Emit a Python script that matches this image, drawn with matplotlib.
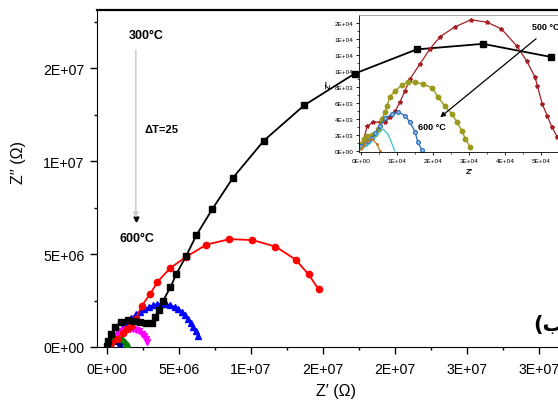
import matplotlib
matplotlib.use('Agg')
import matplotlib.pyplot as plt
import numpy as np

plt.rcParams['font.family'] = ['Liberation Sans', 'DejaVu Sans']

# ---------------- main plot data (ohm) ----------------
black_x = [0.0, 0.1, 0.3, 0.55, 1.0, 1.45, 1.9, 2.3, 2.7, 3.1, 3.3, 3.6, 3.9, 4.4, 4.8,
           5.5, 6.2, 7.3, 8.75, 10.9, 13.7, 17.2, 21.5, 26.1, 30.8]
black_y = [0.05, 0.3, 0.7, 1.1, 1.35, 1.45, 1.4, 1.35, 1.3, 1.3, 1.6, 2.0, 2.5, 3.2, 3.9,
           4.9, 6.0, 7.4, 9.1, 11.1, 13.0, 14.7, 16.0, 16.3, 15.6]

red_x = [0.05, 0.3, 0.7, 1.1, 1.4, 1.7, 2.0, 2.4, 3.0, 3.5, 4.4, 5.5, 6.9, 8.5, 10.1,
         11.7, 13.1, 14.0, 14.7]
red_y = [0.05, 0.2, 0.45, 0.75, 0.95, 1.15, 1.5, 2.2, 2.85, 3.5, 4.25, 4.85, 5.5, 5.8,
         5.75, 5.4, 4.7, 3.9, 3.1]

blue_x = [0.05, 0.2, 0.4, 0.6, 0.85, 1.1, 1.4, 1.7, 2.0, 2.3, 2.6, 2.9, 3.2, 3.5, 3.8,
          4.1, 4.4, 4.7, 4.95, 5.2, 5.45, 5.65, 5.85, 6.0, 6.15, 6.3]
blue_y = [0.05, 0.25, 0.45, 0.65, 0.85, 1.05, 1.3, 1.55, 1.75, 1.9, 2.05, 2.15, 2.25,
          2.3, 2.32, 2.3, 2.25, 2.15, 2.05, 1.9, 1.7, 1.5, 1.3, 1.05, 0.85, 0.6]

mag_x = [0.05, 0.2, 0.4, 0.6, 0.8, 1.0, 1.2, 1.4, 1.6, 1.8, 2.0, 2.2, 2.4, 2.55, 2.7, 2.8]
mag_y = [0.05, 0.25, 0.45, 0.6, 0.75, 0.85, 0.92, 0.97, 0.99, 0.98, 0.93, 0.85, 0.72,
         0.58, 0.42, 0.25]

green_x = [0.02, 0.1, 0.2, 0.35, 0.5, 0.65, 0.8, 0.95, 1.1, 1.2, 1.3, 1.38]
green_y = [0.02, 0.12, 0.22, 0.32, 0.4, 0.44, 0.45, 0.42, 0.34, 0.25, 0.14, 0.05]

navy_x = [0.02, 0.1, 0.2, 0.3, 0.4, 0.5, 0.6, 0.7, 0.8, 0.88]
navy_y = [0.02, 0.1, 0.18, 0.24, 0.28, 0.29, 0.26, 0.2, 0.12, 0.03]

# ---------------- inset data ----------------
dred_x = [0.03, 0.17, 0.33, 0.53, 0.67, 0.8, 0.95, 1.08, 1.22, 1.36, 1.64, 1.92, 2.2,
          2.6, 3.05, 3.5, 3.9, 4.33, 4.6, 4.83, 4.9, 5.03, 5.17, 5.3, 5.45, 5.6]
dred_y = [0.6, 3.1, 3.6, 3.6, 3.6, 4.2, 5.0, 6.1, 7.5, 9.0, 10.9, 12.8, 14.3, 15.5, 16.4,
          16.1, 15.25, 13.1, 11.25, 9.25, 8.1, 5.9, 4.4, 3.0, 1.75, 0.5]

olive_x = [0.0, 0.08, 0.17, 0.3, 0.4, 0.47, 0.58, 0.67, 0.72, 0.8, 0.94, 1.14, 1.3, 1.5,
           1.72, 1.97, 2.14, 2.33, 2.53, 2.67, 2.8, 2.9, 3.03]
olive_y = [0.9, 1.5, 1.9, 2.0, 2.1, 2.75, 4.0, 4.9, 5.6, 6.75, 7.5, 8.25, 8.6, 8.6, 8.4,
           7.9, 6.75, 5.6, 4.6, 3.6, 2.5, 1.5, 0.5]

iblue_x = [0.0, 0.1, 0.2, 0.3, 0.4, 0.53, 0.67, 0.86, 1.03, 1.22, 1.36, 1.5, 1.58, 1.69]
iblue_y = [0.6, 0.9, 1.2, 1.6, 2.2, 3.1, 4.1, 4.6, 4.9, 4.4, 3.6, 2.4, 1.1, 0.1]

cyan_x = [0.0, 0.1, 0.25, 0.35, 0.47, 0.61, 0.75, 0.86, 0.94]
cyan_y = [0.2, 0.5, 0.9, 1.5, 2.1, 2.75, 2.1, 0.9, 0.0]

orange_x = [0.0, 0.08, 0.17, 0.3, 0.44, 0.53]
orange_y = [0.2, 0.8, 1.25, 1.5, 0.9, 0.0]

main_xticks = [0, 5e6, 1e7, 1.5e7, 2e7, 2.5e7, 3e7]
main_xlabels = ['0E+00', '5E+06', '1E+07', '2E+07', '2E+07', '3E+07', '3E+07']
main_yticks = [0, 5e6, 1e7, 1.5e7]
main_ylabels = ['0E+00', '5E+06', '1E+07', '2E+07']

ins_xticks = [0, 1e4, 2e4, 3e4, 4e4, 5e4, 6e4]
ins_xlabels = ['0E+00', '1E+04', '2E+04', '3E+04', '4E+04', '5E+04', '6E+04']
ins_yticks = [0, 2e3, 4e3, 6e3, 8e3, 1e4, 1.2e4, 1.4e4, 1.6e4]
ins_ylabels = ['0E+00', '2E+03', '4E+03', '6E+03', '8E+03', '1E+04', '1E+04', '1E+04', '2E+04']

M = 1e6
fig = plt.figure(figsize=(5.58, 4.02), dpi=100)
ax = fig.add_axes([97/558, 54/402, 478/558, 337/402])

ax.plot(np.array(black_x)*M, np.array(black_y)*M, 's-', color='black', lw=1.3, ms=4, zorder=5)
ax.plot(np.array(red_x)*M, np.array(red_y)*M, 'o-', color='#ff0000', lw=1.3, ms=4.5, zorder=4)
ax.plot(np.array(blue_x)*M, np.array(blue_y)*M, '^-', color='#0000ff', lw=1.3, ms=4.5, zorder=3)
ax.plot(np.array(mag_x)*M, np.array(mag_y)*M, 'v-', color='#ff00ff', lw=1.3, ms=4.5, zorder=3)
ax.plot(np.array(green_x)*M, np.array(green_y)*M, 'o-', color='#008000', lw=1.3, ms=3.5, zorder=3)
ax.plot(np.array(navy_x)*M, np.array(navy_y)*M, '<-', color='#000080', lw=1.1, ms=3, zorder=3)

ax.set_xlim(-0.694e6, 32.5e6)
ax.set_ylim(0, 18.12e6)
ax.set_xticks(main_xticks)
ax.set_xticklabels(main_xlabels)
ax.set_yticks(main_yticks)
ax.set_yticklabels(main_ylabels)
ax.set_xticks(np.arange(2.5e6, 3.25e7, 5e6), minor=True)
ax.set_yticks([2.5e6, 7.5e6, 1.25e7, 1.75e7], minor=True)
ax.tick_params(which='major', direction='out', length=5, width=1, labelsize=10.2)
ax.tick_params(axis='x', which='major', pad=6)
ax.tick_params(axis='y', which='major', pad=4)
ax.tick_params(which='minor', direction='out', length=2.5, width=1)
ax.spines['top'].set_linewidth(1.6)

ax.set_xlabel("Z\u2032 (\u03a9)", fontsize=11.5)
ax.xaxis.set_label_coords(0.5, -0.108)
ax.set_ylabel("Z\u2032\u2032 (\u03a9)", fontsize=11.5)
ax.yaxis.set_label_coords(-0.148, 0.55)

# temperature annotations
ax.text(1.5e6, 16.8e6, '300°C', fontsize=9, fontweight='bold', ha='left', va='center')
ax.annotate('', xy=(2.0e6, 6.8e6), xytext=(2.0e6, 16.1e6),
            arrowprops=dict(arrowstyle='-|>', color='#cfcfcf', lw=1.2, mutation_scale=7))
ax.plot([2.0e6], [6.9e6], marker='v', color='black', ms=3.5)
ax.text(2.6e6, 11.7e6, '\u0394T=25', fontsize=8, fontweight='bold', ha='left', va='center')
ax.text(0.9e6, 5.85e6, '600°C', fontsize=9, fontweight='bold', ha='left', va='center')
ax.text(533/558, (402-325)/402, '(\u0628', transform=fig.transFigure, fontsize=15,
        fontweight='bold', family='DejaVu Sans', ha='left', va='center')

# ---------------- inset ----------------
ins = fig.add_axes([359/558, (402-153)/402, 221/558, 137/402])
ins.patch.set_alpha(0)
ins.plot(np.array(dred_x)*1e4, np.array(dred_y)*1e3, '*-', color='#a31f24', lw=0.9, ms=3)
ins.plot(np.array(olive_x)*1e4, np.array(olive_y)*1e3, 'o-', color='#9c9a1e', lw=1.0, ms=3.2)
ins.plot(np.array(iblue_x)*1e4, np.array(iblue_y)*1e3, 'o-', color='#2d6fb7', mfc='#8db8e4',
         lw=1.0, ms=2.8, mew=0.8)
ins.plot(np.array(cyan_x)*1e4, np.array(cyan_y)*1e3, '-', color='#3fc3cb', lw=0.9)
ins.plot(np.array(orange_x)*1e4, np.array(orange_y)*1e3, '.-', color='#c47a1a', lw=0.9, ms=2)

ins.set_xlim(-0.055e4, 6.08e4)
ins.set_ylim(-125, 17000)
ins.set_xticks(ins_xticks)
ins.set_xticklabels(ins_xlabels)
ins.set_yticks(ins_yticks)
ins.set_yticklabels(ins_ylabels)
ins.set_xticks(np.arange(0.5e4, 6.1e4, 1e4), minor=True)
ins.set_yticks(np.arange(1e3, 1.7e4, 2e3), minor=True)
ins.tick_params(which='major', direction='out', length=2.5, width=0.6, labelsize=4.6, pad=1.5)
ins.tick_params(which='minor', direction='out', length=1.3, width=0.5)
for s in ['left', 'bottom']:
    ins.spines[s].set_linewidth(0.6)
ins.spines['top'].set_color('#9a9a9a')
ins.spines['top'].set_linewidth(0.6)
ins.spines['right'].set_visible(False)
ins.set_xlabel("Z\u2032", fontsize=6, fontweight='bold', labelpad=4)
ins.set_ylabel("Z\u2032\u2032", fontsize=6, fontweight='bold', labelpad=1)

ins.annotate('', xy=(2.14e4, 4.0e3), xytext=(4.92e4, 14.25e3),
             arrowprops=dict(arrowstyle='-|>', color='black', lw=0.9, mutation_scale=7))
ins.text(4.75e4, 15.6e3, '500 °C', fontsize=6.5, fontweight='bold', ha='left', va='center')
ins.text(1.58e4, 3.0e3, '600 °C', fontsize=6.5, fontweight='bold', ha='left', va='center')

fig.savefig('out.png', dpi=100, facecolor='white')
